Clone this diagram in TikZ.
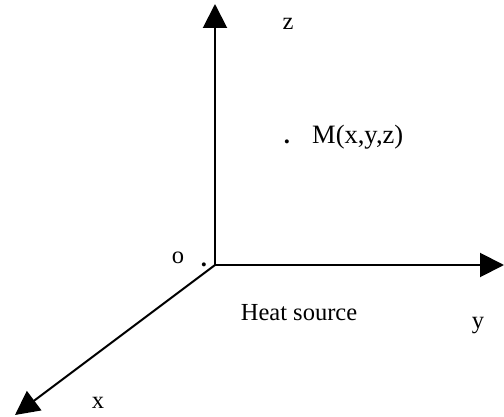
\documentclass[tikz,border=0pt]{standalone}
\usepackage{fontspec}
\setmainfont{Liberation Serif}
\usetikzlibrary{arrows.meta}
\begin{document}
\begin{tikzpicture}[x=1pt,y=-1pt,
  axis/.style={line width=2pt,-{Triangle[length=24pt,width=24pt]}},
  lbl/.style={font=\fontsize{24.5}{28}\selectfont,inner sep=0pt,anchor=base}]
\useasboundingbox (0,0) rectangle (504,417);
\coordinate (O) at (215,265);
\coordinate (Z) at (215,4);
\coordinate (Y) at (504,265);
\coordinate (X) at (15,415);
\draw[axis] (O) -- (Z);
\draw[axis] (O) -- (Y);
\draw[axis] (O) -- (X);
\node[lbl] (zl) at (288,30) {z};
\node[lbl] (dotm) at (287,144) {\textbf{.}};
\node[lbl,anchor=base west,font=\fontsize{26.5}{30}\selectfont] (ml) at (312,144) {M(x,y,z)};
\node[lbl] (ol) at (178,264) {o};
\node[lbl] (doto) at (204,267) {\textbf{.}};
\node[lbl] (hs) at (299,320) {Heat source};
\node[lbl] (yl) at (478,328) {y};
\node[lbl] (xl) at (98,408) {x};
\end{tikzpicture}
\end{document}
